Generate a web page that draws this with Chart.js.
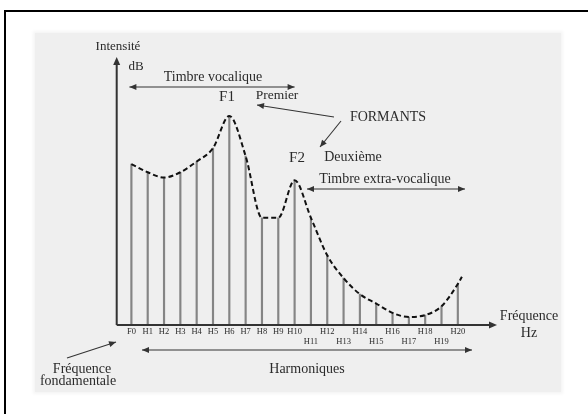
<!DOCTYPE html>
<html lang="fr">
<head>
<meta charset="UTF-8">
<title>Formants</title>
<script src="https://cdn.jsdelivr.net/npm/chart.js@4.4.1/dist/chart.umd.min.js"></script>
<style>
    * { margin: 0; padding: 0; }
    body { background: #fff; width: 588px; height: 414px; position: relative; overflow: hidden; }
    #cadre { position: absolute; left: 4px; top: 10px; width: 640px; height: 460px;
             border-left: 2px solid #000; border-top: 2px solid #000; }
    #fond { position: absolute; left: 35px; top: 33px; width: 526px; height: 359px;
            background: #efefef; box-shadow: 0 0 3px 2px #f5f5f5; }
    #spectre { position: absolute; left: 0; top: 0; }
</style>
</head>
<body>
<div id="cadre"></div>
<div id="fond"></div>
<canvas id="spectre" width="588" height="414"></canvas>
<script>
    // harmoniques du spectre et leur intensité (0 = axe, 100 = pointe de la flèche)
    var harmoniques = ['F0','H1','H2','H3','H4','H5','H6','H7','H8','H9','H10',
                       'H11','H12','H13','H14','H15','H16','H17','H18','H19','H20'];
    var intensite = [60, 57, 55, 57, 61, 66, 78, 63, 40, 40, 54,
                     40, 26, 17.5, 11.5, 8, 4.5, 3, 3.7, 7, 15.3];
    // l'enveloppe en pointillés dépasse un peu H20
    var finEnveloppe = {x: 20.25, y: 18};

    var raies = [];
    var enveloppe = [];
    for (var i = 0; i < harmoniques.length; i++) {
        raies.push({x: i, y: intensite[i]});
        enveloppe.push({x: i, y: intensite[i]});
    }
    enveloppe.push(finEnveloppe);

    var SERIF = '"Liberation Serif", "DejaVu Serif", serif';
    var INK = '#2b2b2b';

    function tete(ctx, x1, y1, x2, y2, len, larg) {
        var a = Math.atan2(y2 - y1, x2 - x1);
        ctx.beginPath();
        ctx.moveTo(x2, y2);
        ctx.lineTo(x2 - len * Math.cos(a) + larg * Math.sin(a), y2 - len * Math.sin(a) - larg * Math.cos(a));
        ctx.lineTo(x2 - len * Math.cos(a) - larg * Math.sin(a), y2 - len * Math.sin(a) + larg * Math.cos(a));
        ctx.closePath();
        ctx.fill();
    }

    function fleche(ctx, x1, y1, x2, y2, double) {
        ctx.beginPath();
        ctx.moveTo(x1, y1);
        ctx.lineTo(x2, y2);
        ctx.stroke();
        tete(ctx, x1, y1, x2, y2, 7, 3);
        if (double) tete(ctx, x2, y2, x1, y1, 7, 3);
    }

    function texte(ctx, t, x, y, size) {
        ctx.font = size + 'px ' + SERIF;
        ctx.fillText(t, x, y);
    }

    var annotations = {
        id: 'annotations',
        afterDatasetsDraw: function (chart) {
            var ctx = chart.ctx;
            var area = chart.chartArea;
            var sx = chart.scales.x;
            ctx.save();

            // axes
            ctx.strokeStyle = '#333';
            ctx.fillStyle = '#333';
            ctx.lineWidth = 2;
            ctx.beginPath();
            ctx.moveTo(area.left, area.bottom);
            ctx.lineTo(area.left, area.top + 6);
            ctx.moveTo(area.left, area.bottom);
            ctx.lineTo(area.right - 6, area.bottom);
            ctx.stroke();
            tete(ctx, area.left, area.bottom, area.left, area.top, 8, 3.5);
            tete(ctx, area.left, area.bottom, area.right, area.bottom, 8, 3.5);

            // étiquettes des harmoniques, décalées sur deux lignes après H10
            ctx.fillStyle = INK;
            ctx.textAlign = 'center';
            ctx.textBaseline = 'middle';
            ctx.font = '8.5px ' + SERIF;
            for (var i = 0; i < harmoniques.length; i++) {
                var bas = i > 10 && i % 2 === 1;
                ctx.fillText(harmoniques[i], sx.getPixelForValue(i), area.bottom + (bas ? 17 : 7));
            }

            // textes
            texte(ctx, 'Intensité', 118, 47, 13);
            texte(ctx, 'dB', 136, 67, 13);
            texte(ctx, 'Timbre vocalique', 213, 77, 14);
            texte(ctx, 'F1', 227, 97, 15);
            texte(ctx, 'Premier', 277, 95, 13.5);
            texte(ctx, 'FORMANTS', 388, 117, 14);
            texte(ctx, 'F2', 297, 158, 15);
            texte(ctx, 'Deuxième', 353, 157, 14);
            texte(ctx, 'Timbre extra-vocalique', 385, 179, 14);
            texte(ctx, 'Fréquence', 529, 316, 14);
            texte(ctx, 'Hz', 529, 333, 14);
            texte(ctx, 'Harmoniques', 307, 369, 14);
            texte(ctx, 'Fréquence', 82, 369, 14);
            texte(ctx, 'fondamentale', 78, 381, 14);

            // flèches
            ctx.strokeStyle = '#333';
            ctx.fillStyle = '#333';
            ctx.lineWidth = 1.1;
            fleche(ctx, sx.getPixelForValue(0) - 2, 87, sx.getPixelForValue(10), 87, true);
            fleche(ctx, 334, 117, 257, 105, false);
            fleche(ctx, 341, 121, 320, 147, false);
            fleche(ctx, 307, 189, 465, 189, true);
            fleche(ctx, 142, 350, 472, 350, true);
            fleche(ctx, 67, 358, 116, 342, false);

            ctx.restore();
        }
    };

    var chart = new Chart(document.getElementById('spectre'), {
        data: {
            datasets: [{
                type: 'line',
                label: 'Enveloppe',
                data: enveloppe,
                borderColor: '#111',
                borderWidth: 2,
                borderDash: [5, 3],
                pointRadius: 0,
                cubicInterpolationMode: 'monotone',
                fill: false,
                order: 0
            }, {
                type: 'bar',
                label: 'Harmoniques',
                data: raies,
                backgroundColor: '#858585',
                barThickness: 1.5,
                order: 1
            }]
        },
        options: {
            responsive: false,
            animation: false,
            layout: { padding: { left: 116.7, right: 91, top: 57, bottom: 89 } },
            scales: {
                x: { type: 'linear', min: -0.9, max: 22.4, offset: false, display: false },
                y: { min: 0, max: 100, display: false }
            },
            plugins: { legend: { display: false }, tooltip: { enabled: false } }
        },
        plugins: [annotations]
    });
</script>
</body>
</html>
